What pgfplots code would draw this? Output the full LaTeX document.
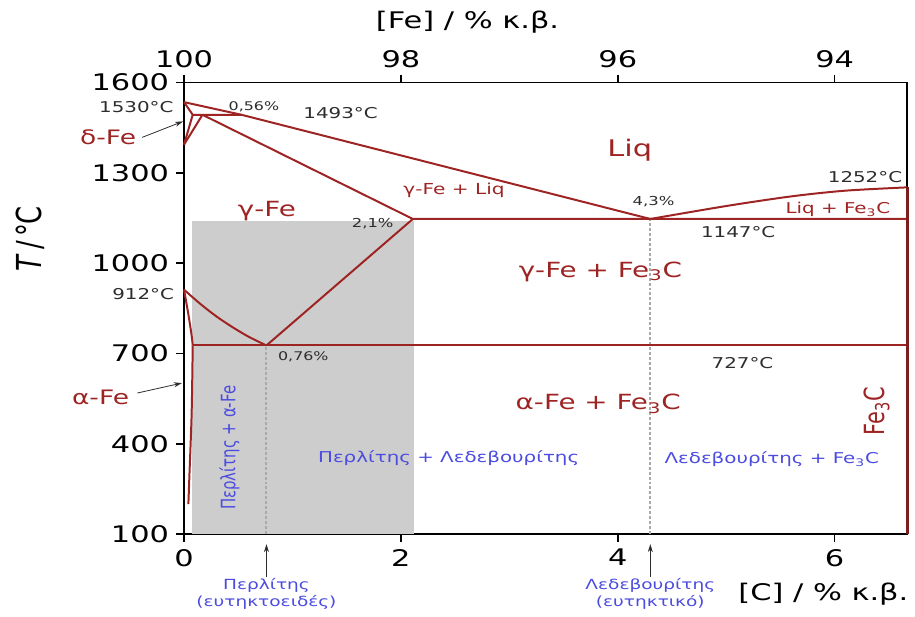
\documentclass[border=0pt]{standalone}
\usepackage{fontspec}
\setmainfont{DejaVu Sans}[FakeStretch=1.33]
\newfontfamily\rotfont{DejaVu Sans}
\usepackage{graphicx}
\usepackage{pgfplots}
\pgfplotsset{compat=1.18}
\usetikzlibrary{arrows.meta}
\definecolor{fered}{RGB}{158,36,36}
\definecolor{lblue}{RGB}{75,75,225}
\definecolor{dgray}{RGB}{45,45,45}
\definecolor{shade}{RGB}{205,205,205}
\definecolor{dotc}{RGB}{170,170,170}
\newcommand{\fs}[2]{\fontsize{#1}{#2}\selectfont}
\begin{document}
\begin{tikzpicture}
\begin{axis}[name=main,
  scale only axis, width=363.5pt, height=227pt,
  xmin=0, xmax=6.67, ymin=100, ymax=1600,
  xtick={0,2,4,6}, ytick={100,400,700,1000,1300,1600},
  xtick pos=bottom, ytick pos=left, tick align=outside,
  major tick length=4pt,
  tick style={black, line width=0.8pt},
  axis line style={line width=0.9pt},
  tick label style={font=\fs{11.5}{13}},
  /pgf/number format/assume math mode=true,
  /pgf/number format/1000 sep={},
  scaled ticks=false,
  clip=false,
  ylabel={\rotfont\fs{13}{15}\scalebox{1}[1.33]{\textit{T}\,/\,°C}},
  ylabel style={at={(axis description cs:-0.213,0.654)}, anchor=center},
  xlabel={[C] / \% κ.β.},
  xlabel style={font=\fs{11.5}{13}, at={(axis description cs:0.884,-0.132)}, anchor=center},
]
% shaded region
\addplot[fill=shade, draw=none] coordinates {(0.074,100) (0.074,1140) (2.125,1140) (2.125,100)} -- cycle;
% dotted lines
\addplot[dotc, line width=1pt, dash pattern=on 1.5pt off 1pt] coordinates {(0.76,100) (0.76,727)};
\addplot[dotc, line width=1pt, dash pattern=on 1.5pt off 1pt] coordinates {(4.3,100) (4.3,1147)};
% phase boundaries
\addplot[fered, line width=1pt] coordinates {(0,1535) (0.53,1493) (4.3,1147)};
\addplot[fered, line width=1pt, smooth] coordinates {(4.3,1147) (5.0,1190) (5.6,1222) (6.1,1241) (6.67,1252)};
\addplot[fered, line width=1pt] coordinates {(0,1535) (0.08,1493) (0.53,1493)};
\addplot[fered, line width=1pt] coordinates {(0,1394) (0.08,1493)};
\addplot[fered, line width=1pt] coordinates {(0,1394) (0.17,1493)};
\addplot[fered, line width=1pt] coordinates {(0.17,1493) (2.11,1147) (6.67,1147)};
\addplot[fered, line width=1pt, smooth] coordinates {(0,912) (0.15,865) (0.3,823) (0.45,787) (0.6,755) (0.76,727)};
\addplot[fered, line width=1pt] coordinates {(0.76,727) (2.11,1147)};
\addplot[fered, line width=1pt, smooth] coordinates {(0,912) (0.04,830) (0.07,760) (0.08,727)};
\addplot[fered, line width=1pt, smooth] coordinates {(0.08,727) (0.07,500) (0.05,300) (0.04,200)};
\addplot[fered, line width=1pt] coordinates {(0.08,727) (6.67,727)};
\addplot[fered!80!black, line width=1.6pt] coordinates {(6.67,100) (6.67,1252)};
% phase labels (red)
\node[text=fered, font=\fs{11.5}{13}] at (4.11,1375) {Liq};
\node[text=fered, font=\fs{10.5}{12}] at (0.764,1174) {γ-Fe};
\node[text=fered, font=\fs{7.6}{9}] at (2.49,1243) {γ-Fe + Liq};
\node[text=fered, font=\fs{7.5}{9}] at (6.03,1180) {Liq + Fe\textsubscript{3}C};
\node[text=fered, font=\fs{10.5}{12}] at (3.84,972) {γ-Fe + Fe\textsubscript{3}C};
\node[text=fered, font=\fs{10.5}{12}] at (3.82,533) {α-Fe + Fe\textsubscript{3}C};
\node[text=fered, rotate=90] at (6.39,510) {\rotfont\fs{10.5}{12}\scalebox{1}[1.33]{Fe\textsubscript{3}C}};
\node[text=fered, font=\fs{10}{12}] at (-0.70,1418) {δ-Fe};
\node[text=fered, font=\fs{10}{12}] at (-0.77,553) {α-Fe};
\draw[-{Stealth[length=4pt,width=2.5pt]}, line width=0.4pt, dgray] (-0.386,1418) -- (-0.01,1471);
\draw[-{Stealth[length=4pt,width=2.5pt]}, line width=0.4pt, dgray] (-0.43,569) -- (-0.02,602);
% temperature / composition annotations
\node[text=dgray, font=\fs{7.5}{9}] at (-0.44,1517) {1530°C};
\node[text=dgray, font=\fs{6}{7}] at (0.644,1521) {0,56\%};
\node[text=dgray, font=\fs{7.5}{9}] at (1.444,1499) {1493°C};
\node[text=dgray, font=\fs{6.2}{7}] at (1.74,1131) {2,1\%};
\node[text=dgray, font=\fs{6.2}{7}] at (4.33,1204) {4,3\%};
\node[text=dgray, font=\fs{7.5}{9}] at (6.28,1286) {1252°C};
\node[text=dgray, font=\fs{7.5}{9}] at (5.11,1104) {1147°C};
\node[text=dgray, font=\fs{7.5}{9}] at (-0.377,896) {912°C};
\node[text=dgray, font=\fs{6}{7}] at (1.10,688) {0,76\%};
\node[text=dgray, font=\fs{7.5}{9}] at (5.15,670) {727°C};
% structure labels (blue)
\node[text=lblue, rotate=90] at (0.42,387) {\rotfont\fs{7.5}{9}\scalebox{1}[1.33]{Περλίτης + α-Fe}};
\node[text=lblue, font=\fs{7.5}{9}] at (2.44,354) {Περλίτης + Λεδεβουρίτης};
\node[text=lblue, font=\fs{7.5}{9}] at (5.42,348) {Λεδεβουρίτης + Fe\textsubscript{3}C};
\draw[-{Stealth[length=4pt,width=2.5pt]}, line width=0.4pt, dgray] (0.76,-42) -- (0.76,67);
\draw[-{Stealth[length=4pt,width=2.5pt]}, line width=0.4pt, dgray] (4.3,-42) -- (4.3,67);
\node[text=lblue, font=\fs{7}{9}, align=center] at (0.76,-98) {Περλίτης\\(ευτηκτοειδές)};
\node[text=lblue, font=\fs{7}{9}, align=center] at (4.3,-98) {Λεδεβουρίτης\\(ευτηκτικό)};
% bounding box
\path (rel axis cs:0,0) ++(-92.5pt,-40pt) rectangle ++(457.5pt,308.5pt);
\end{axis}
\begin{axis}[
  scale only axis, width=363.5pt, height=227pt,
  xmin=0, xmax=6.67, ymin=100, ymax=1600,
  axis x line*=top, hide y axis,
  xtick={0,2,4,6}, xticklabels={100,98,96,94},
  tick align=outside, major tick length=4pt,
  tick style={black, line width=0.8pt},
  axis line style={line width=0.9pt},
  tick label style={font=\fs{11.5}{13}},
  xlabel={[Fe] / \% κ.β.},
  xlabel style={font=\fs{11.5}{13}, at={(axis description cs:0.392,1.134)}, anchor=center},
]
\addplot[draw=none] coordinates {(0,100) (6.67,1600)};
\end{axis}
\end{tikzpicture}
\end{document}
